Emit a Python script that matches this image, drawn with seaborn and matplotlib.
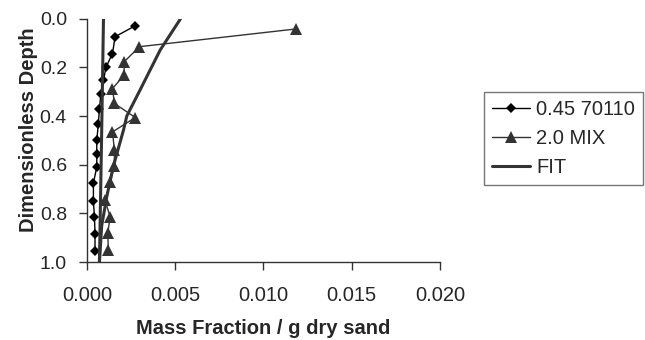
import matplotlib
matplotlib.use("Agg")
import matplotlib.pyplot as plt
import seaborn as sns
import pandas as pd

# ---- data ----
depth_045 = [0.029, 0.074, 0.143, 0.198, 0.252, 0.310, 0.372, 0.431, 0.500, 0.557,
             0.609, 0.675, 0.750, 0.815, 0.883, 0.955]
mass_045 = [0.00273, 0.00159, 0.00144, 0.00108, 0.00093, 0.00078, 0.00070, 0.00064,
            0.00055, 0.00055, 0.00055, 0.00036, 0.00036, 0.00042, 0.00045, 0.00045]

depth_mix = [0.042, 0.115, 0.177, 0.232, 0.287, 0.348, 0.406, 0.465, 0.540, 0.606,
             0.670, 0.746, 0.815, 0.880, 0.952]
mass_mix = [0.01186, 0.00297, 0.00210, 0.00210, 0.00144, 0.00155, 0.00273, 0.00144,
            0.00155, 0.00155, 0.00131, 0.00102, 0.00131, 0.00117, 0.00121]

fit_mix_depth = [0.0, 0.128, 0.292, 0.40, 0.456, 0.606, 0.73, 0.85, 1.0]
fit_mix_mass = [0.0053, 0.00415, 0.00301, 0.00225, 0.00207, 0.00149, 0.00112, 0.00083, 0.00070]

fit_045_depth = [0.0, 0.5, 1.0]
fit_045_mass = [0.00093, 0.00082, 0.00070]

label_045 = "0.45 70110"
label_mix = "2.0 MIX"
label_fit = "FIT"
x_label = "Mass Fraction / g dry sand"
y_label = "Dimensionless Depth"
x_ticks = [0.000, 0.005, 0.010, 0.015, 0.020]
y_ticks = [0.0, 0.2, 0.4, 0.6, 0.8, 1.0]

# ---- plotting ----
sns.set_style("white")
plt.rcParams["font.family"] = ["Liberation Sans", "DejaVu Sans"]

fig = plt.figure(figsize=(6.45, 3.4), dpi=100)
ax = fig.add_axes([0.135, 0.229, 0.547, 0.716])

df045 = pd.DataFrame({"x": mass_045, "y": depth_045})
dfmix = pd.DataFrame({"x": mass_mix, "y": depth_mix})
dffit1 = pd.DataFrame({"x": fit_mix_mass, "y": fit_mix_depth})
dffit2 = pd.DataFrame({"x": fit_045_mass, "y": fit_045_depth})

sns.lineplot(data=df045, x="x", y="y", sort=False, estimator=None, ax=ax,
             color="black", lw=1.0, marker="D", markersize=5.5,
             markeredgewidth=0, label=label_045)
sns.lineplot(data=dfmix, x="x", y="y", sort=False, estimator=None, ax=ax,
             color="#333333", lw=1.0, marker="^", markersize=8.5,
             markeredgewidth=0, label=label_mix)
sns.lineplot(data=dffit1, x="x", y="y", sort=False, estimator=None, ax=ax,
             color="#333333", lw=2.2, label=label_fit)
sns.lineplot(data=dffit2, x="x", y="y", sort=False, estimator=None, ax=ax,
             color="#333333", lw=2.2, label="_nolegend_")

ax.set_xlim(0, 0.020)
ax.set_ylim(1.0, 0.0)
ax.set_xticks(x_ticks)
ax.set_yticks(y_ticks)
ax.set_xticklabels([f"{v:.3f}" for v in x_ticks], fontsize=14.5)
ax.set_yticklabels([f"{v:.1f}" for v in y_ticks], fontsize=14)
ax.set_xlabel(x_label, fontsize=14.5, fontweight="bold")
ax.set_ylabel(y_label, fontsize=14.5, fontweight="bold")
ax.xaxis.set_label_coords(0.5, -0.232)
ax.yaxis.set_label_coords(-0.14, 0.543)

for side in ["top", "right"]:
    ax.spines[side].set_visible(False)
for side in ["left", "bottom"]:
    ax.spines[side].set_color("#333333")
    ax.spines[side].set_linewidth(1.0)
ax.tick_params(axis="both", direction="out", length=5.5, width=1.0,
               color="#333333", left=True, bottom=True)
ax.tick_params(axis="x", pad=12)
ax.tick_params(axis="y", pad=9)

ax.get_legend().remove()
handles, labels = ax.get_legend_handles_labels()
leg = fig.legend(handles, labels, loc="upper left", bbox_to_anchor=(0.750, 0.729),
                 frameon=True, fancybox=False, fontsize=14.5, handlelength=1.9,
                 handletextpad=0.3, borderpad=0.4, labelspacing=0.5,
                 borderaxespad=0)
leg.get_frame().set_edgecolor("#555555")
leg.get_frame().set_linewidth(1.0)

fig.savefig("out.png", dpi=100)
